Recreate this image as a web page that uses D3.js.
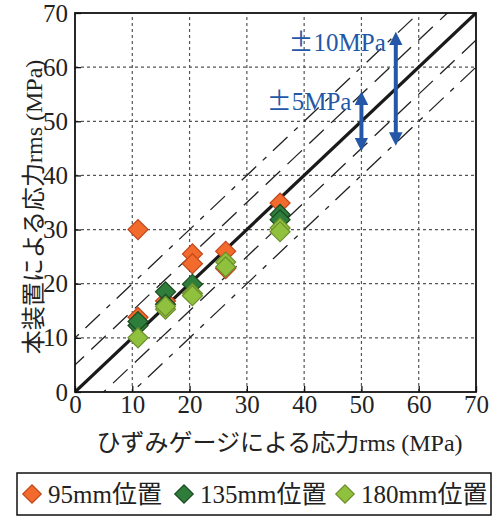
<!DOCTYPE html>
<html>
<head>
<meta charset="utf-8">
<script src="https://cdn.jsdelivr.net/npm/d3@7"></script>
<style>
  body { margin: 0; background: #fff; }
  svg { display: block; }
  .serif { font-family: "Liberation Serif", "DejaVu Serif", "Times New Roman", serif; }
  .cjk { font-family: "Noto Sans CJK JP", sans-serif; }
</style>
</head>
<body>
<div id="chart"></div>
<script>
// values
let ticks = [0, 10, 20, 30, 40, 50, 60, 70];
let gridVals = [10, 20, 30, 40, 50, 60];

let x95 = [11, 11, 15.8, 20.5, 20.5, 26.3, 26.3, 35.8];
let y95 = [30, 13.8, 16.8, 25.5, 23.7, 26, 22.8, 34.9];

let x135 = [11, 11, 15.8, 15.8, 20.5, 35.8, 35.8];
let y135 = [12.3, 13, 18.5, 16.2, 19.9, 32.8, 31.8];

let x180 = [11, 15.8, 15.8, 20.5, 20.5, 26.3, 26.3, 35.8, 35.8];
let y180 = [10, 15.3, 15.8, 18.2, 17.8, 24, 23.1, 30.3, 29.6];

let offsets5 = [5, -5];
let offsets10 = [10, -10];
let arrowX = [50, 56];
let arrowHalf = [5, 10];
let arrowNums = ["5MPa", "10MPa"];

let seriesNames = ["95mm位置", "135mm位置", "180mm位置"];

function makeChart() {
    let width = 494, height = 518;
    let left = 75, right = 476, top = 13, bottom = 392;

    let svg = d3.select("#chart").append("svg")
        .attr("width", width)
        .attr("height", height);

    let xScale = d3.scaleLinear().domain([0, 70]).range([left, right]);
    let yScale = d3.scaleLinear().domain([0, 70]).range([bottom, top]);

    svg.append("clipPath").attr("id", "plotclip")
        .append("rect")
        .attr("x", left).attr("y", top)
        .attr("width", right - left).attr("height", bottom - top);

    // grid
    let grid = svg.append("g");
    gridVals.forEach(function(v) {
        grid.append("line")
            .attr("x1", xScale(v)).attr("x2", xScale(v))
            .attr("y1", yScale(0)).attr("y2", yScale(70))
            .attr("stroke", "#555").attr("stroke-width", 1.2)
            .attr("stroke-dasharray", "3,3");
        grid.append("line")
            .attr("x1", xScale(0)).attr("x2", xScale(70))
            .attr("y1", yScale(v)).attr("y2", yScale(v))
            .attr("stroke", "#555").attr("stroke-width", 1.2)
            .attr("stroke-dasharray", "3,3");
    });

    // diagonal lines
    let diag = svg.append("g").attr("clip-path", "url(#plotclip)");
    offsets5.forEach(function(o) {
        diag.append("line")
            .attr("x1", xScale(-20)).attr("y1", yScale(-20 + o))
            .attr("x2", xScale(90)).attr("y2", yScale(90 + o))
            .attr("stroke", "#222").attr("stroke-width", 1.3)
            .attr("stroke-dasharray", "20,10");
    });
    offsets10.forEach(function(o) {
        diag.append("line")
            .attr("x1", xScale(-20)).attr("y1", yScale(-20 + o))
            .attr("x2", xScale(90)).attr("y2", yScale(90 + o))
            .attr("stroke", "#222").attr("stroke-width", 1.3)
            .attr("stroke-dasharray", "20,9,5,9");
    });
    diag.append("line")
        .attr("x1", xScale(0)).attr("y1", yScale(0))
        .attr("x2", xScale(70)).attr("y2", yScale(70))
        .attr("stroke", "#1a1a1a").attr("stroke-width", 3.2);

    // frame
    svg.append("rect")
        .attr("x", left).attr("y", top)
        .attr("width", right - left).attr("height", bottom - top)
        .attr("fill", "none").attr("stroke", "#111").attr("stroke-width", 1.8);

    // axes with inward ticks
    let xAxis = svg.append("g")
        .attr("transform", "translate(0," + bottom + ")")
        .call(d3.axisBottom(xScale).tickValues(ticks).tickSizeInner(-6).tickSizeOuter(0).tickPadding(3));
    xAxis.attr("font-family", null).attr("font-size", null);
    xAxis.select(".domain").remove();
    xAxis.selectAll("line").attr("stroke", "#111").attr("stroke-width", 1.3);
    xAxis.selectAll("text")
        .attr("class", "serif").style("font-size", "25px").attr("fill", "#222");

    let yAxis = svg.append("g")
        .attr("transform", "translate(" + left + ",0)")
        .call(d3.axisLeft(yScale).tickValues(ticks).tickSizeInner(-6).tickSizeOuter(0).tickPadding(7));
    yAxis.attr("font-family", null).attr("font-size", null);
    yAxis.select(".domain").remove();
    yAxis.selectAll("line").attr("stroke", "#111").attr("stroke-width", 1.3);
    yAxis.selectAll("text")
        .attr("class", "serif").style("font-size", "25px").attr("fill", "#222");

    // arrows
    let blue = "#2457a7";
    let defs = svg.append("defs");
    defs.append("marker").attr("id", "ahead")
        .attr("viewBox", "0 0 10 10").attr("refX", 2).attr("refY", 5)
        .attr("markerWidth", 3.4).attr("markerHeight", 3.4)
        .attr("orient", "auto-start-reverse")
        .append("path").attr("d", "M0,0 L10,5 L0,10 Z").attr("fill", blue);

    arrowX.forEach(function(ax, i) {
        let h = arrowHalf[i];
        svg.append("line")
            .attr("x1", xScale(ax)).attr("x2", xScale(ax))
            .attr("y1", yScale(ax - h) - 8).attr("y2", yScale(ax + h) + 8)
            .attr("stroke", blue).attr("stroke-width", 4)
            .attr("marker-start", "url(#ahead)")
            .attr("marker-end", "url(#ahead)");
        let t = svg.append("text")
            .attr("x", xScale(ax) - 10)
            .attr("y", yScale(ax + h) + 16)
            .attr("text-anchor", "end")
            .attr("fill", blue)
            .style("font-size", "25px");
        t.append("tspan").attr("class", "cjk").text("±");
        t.append("tspan").attr("class", "serif").text(arrowNums[i]);
    });

    // points
    let colors = [
        { fill: "#f26b2d", stroke: "#c0461b" },
        { fill: "#2f7d3b", stroke: "#1c4a22" },
        { fill: "#8fc13e", stroke: "#6c8f2b" }
    ];
    let allX = [x95, x135, x180];
    let allY = [y95, y135, y180];
    let diamond = d3.symbol().type(d3.symbolSquare).size(200);

    allX.forEach(function(xs, s) {
        let data = xs.map(function(v, k) { return { x: v, y: allY[s][k] }; });
        svg.append("g").selectAll("path").data(data).enter().append("path")
            .attr("d", diamond)
            .attr("transform", function(d) {
                return "translate(" + xScale(d.x) + "," + yScale(d.y) + ") rotate(45)";
            })
            .attr("fill", colors[s].fill)
            .attr("stroke", colors[s].stroke)
            .attr("stroke-width", 1.2);
    });

    // axis titles
    let xt = svg.append("text")
        .attr("x", (left + right) / 2 + 4).attr("y", 451)
        .attr("text-anchor", "middle")
        .attr("fill", "#222")
        .style("font-size", "24px");
    xt.append("tspan").attr("class", "cjk").text("ひずみゲージによる応力");
    xt.append("tspan").attr("class", "serif").text("rms (MPa)");

    let yt = svg.append("text")
        .attr("transform", "translate(42," + 207 + ") rotate(-90)")
        .attr("text-anchor", "middle")
        .attr("fill", "#222")
        .style("font-size", "24px");
    yt.append("tspan").attr("class", "cjk").text("本装置による応力");
    yt.append("tspan").attr("class", "serif").text("rms (MPa)");

    // legend
    let lg = svg.append("g");
    lg.append("rect")
        .attr("x", 17).attr("y", 473).attr("width", 474).attr("height", 42)
        .attr("fill", "#fff").attr("stroke", "#111").attr("stroke-width", 1.5);
    let legendX = [32, 184, 345];
    seriesNames.forEach(function(name, s) {
        lg.append("path")
            .attr("d", d3.symbol().type(d3.symbolSquare).size(170))
            .attr("transform", "translate(" + legendX[s] + ",494) rotate(45)")
            .attr("fill", colors[s].fill)
            .attr("stroke", colors[s].stroke)
            .attr("stroke-width", 1.2);
        let t = lg.append("text")
            .attr("x", legendX[s] + 16).attr("y", 503)
            .attr("fill", "#222")
            .style("font-size", "25px");
        let num = name.replace("位置", "");
        t.append("tspan").attr("class", "serif").text(num);
        t.append("tspan").attr("class", "cjk").text("位置");
    });
}

makeChart();
</script>
</body>
</html>
